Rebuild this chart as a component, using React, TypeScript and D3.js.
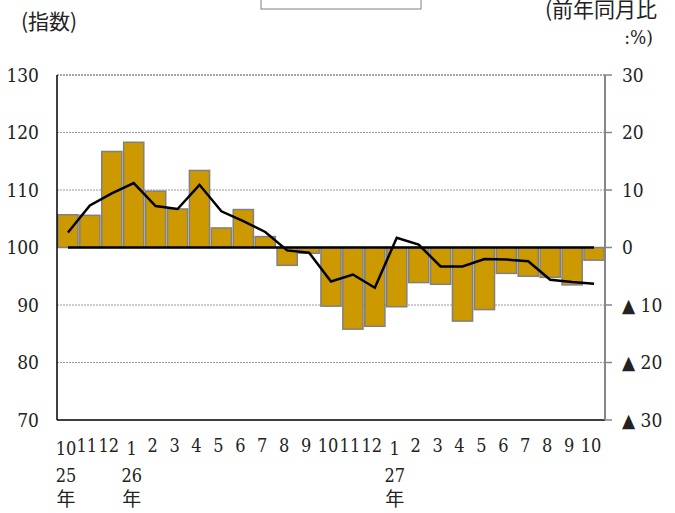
import React from 'react';
import * as d3 from 'd3';

// month labels along the x axis
const months = ['10', '11', '12', '1', '2', '3', '4', '5', '6', '7', '8', '9', '10', '11', '12', '1', '2', '3', '4', '5', '6', '7', '8', '9', '10'];
const years = ['25', '', '', '26', '', '', '', '', '', '', '', '', '', '', '', '27', '', '', '', '', '', '', '', '', ''];

// 前年同月比 (%), bars on the right axis
const yoy = [5.7, 5.6, 16.7, 18.3, 9.8, 6.7, 13.4, 3.4, 6.6, 1.9, -3.1, -1.0, -10.2, -14.2, -13.7, -10.3, -6.1, -6.4, -12.8, -10.8, -4.5, -5.0, -5.2, -6.5, -2.2];

// 指数, line on the left axis
const index = [102.6, 107.3, 109.4, 111.2, 107.2, 106.7, 110.9, 106.3, 104.6, 102.7, 99.5, 99.1, 94.1, 95.3, 93.0, 101.7, 100.5, 96.7, 96.7, 98.0, 97.9, 97.6, 94.4, 94.0, 93.7];

const leftTicks = [70, 80, 90, 100, 110, 120, 130];
const rightTicks = [-30, -20, -10, 0, 10, 20, 30];

const serif = { fontFamily: "'DejaVu Serif Condensed', 'DejaVu Serif', serif" };
const cjk = { fontFamily: "'Noto Sans CJK JP', sans-serif" };

export default function App() {
  const left = 57, right = 605, top = 75, bottom = 420;

  const x = d3.scaleBand<number>()
    .domain(d3.range(months.length))
    .range([left, right])
    .paddingInner(0.08)
    .paddingOuter(0.04);
  const yL = d3.scaleLinear().domain([70, 130]).range([bottom, top]);
  const yR = d3.scaleLinear().domain([-30, 30]).range([bottom, top]);
  const cx = (i: number) => (x(i) as number) + x.bandwidth() / 2;

  const line = d3.line<number>()
    .x((_, i) => cx(i))
    .y(d => yL(d));

  const base = d3.line<number>()
    .x((_, i) => cx(i))
    .y(() => yR(0));

  return (
    <svg width={675} height={513} style={{ position: 'absolute', left: 0, top: 0, background: '#fff' }}>
      {/* legend frame cut off at the top */}
      <rect x={261} y={-20} width={160} height={29} fill="#fff" stroke="#808080" strokeWidth={1} />

      <text x={21} y={29} style={cjk} fontSize={21} fill="#222">(指数)</text>
      <text x={657} y={17} textAnchor="end" style={cjk} fontSize={21} fill="#222">(前年同月比</text>
      <text x={653} y={44} textAnchor="end" style={serif} fontSize={19} fill="#222">:%)</text>

      {/* grid */}
      {leftTicks.filter(v => v !== 70 && v !== 100).map(v => (
        <line key={v} x1={left} x2={right} y1={yL(v)} y2={yL(v)}
          stroke={v === 130 ? '#888' : '#999'} strokeWidth={v === 130 ? 1.5 : 1} strokeDasharray="2,1" />
      ))}

      {/* bars */}
      {yoy.map((v, i) => (
        <rect key={i} x={x(i)} width={x.bandwidth()}
          y={yR(Math.max(0, v))} height={Math.abs(yR(v) - yR(0))}
          fill="#CC9900" stroke="#808080" strokeWidth={1.5} />
      ))}

      {/* axes */}
      <line x1={left} x2={left} y1={top} y2={bottom} stroke="#000" strokeWidth={1.5} />
      <line x1={left} x2={right} y1={bottom} y2={bottom} stroke="#000" strokeWidth={1.5} />
      <line x1={right} x2={right} y1={top} y2={bottom} stroke="#868686" strokeWidth={2} />
      {rightTicks.map(v => (
        <line key={v} x1={right} x2={right + 7} y1={yR(v)} y2={yR(v)} stroke="#868686" strokeWidth={1.5} />
      ))}

      {/* zero line and index line */}
      <path d={base(yoy) || ''} fill="none" stroke="#000" strokeWidth={2.5} />
      <path d={line(index) || ''} fill="none" stroke="#000" strokeWidth={2.5} />

      {/* left tick labels */}
      {leftTicks.map(v => (
        <text key={v} x={39} y={yL(v)} dy="0.35em" textAnchor="end" style={serif} fontSize={19} fill="#222">{v}</text>
      ))}
      {/* right tick labels */}
      {rightTicks.map(v => (
        <text key={v} x={622} y={yR(v)} dy="0.35em" style={serif} fontSize={19} fill="#222">
          {v < 0 ? `▲ ${-v}` : `${v}`}
        </text>
      ))}

      {/* x labels */}
      {months.map((m, i) => {
        const multi = years[i] !== '';
        const px = cx(i) + (multi ? -2 : -3);
        return (
          <g key={i}>
            <text x={px} y={multi ? 455 : 452} textAnchor="middle" style={serif} fontSize={18} fill="#222">{m}</text>
            {multi && (
              <>
                <text x={px} y={482} textAnchor="middle" style={serif} fontSize={18} fill="#222">{years[i]}</text>
                <text x={px} y={506} textAnchor="middle" style={cjk} fontSize={19} fill="#222">年</text>
              </>
            )}
          </g>
        );
      })}
    </svg>
  );
}
